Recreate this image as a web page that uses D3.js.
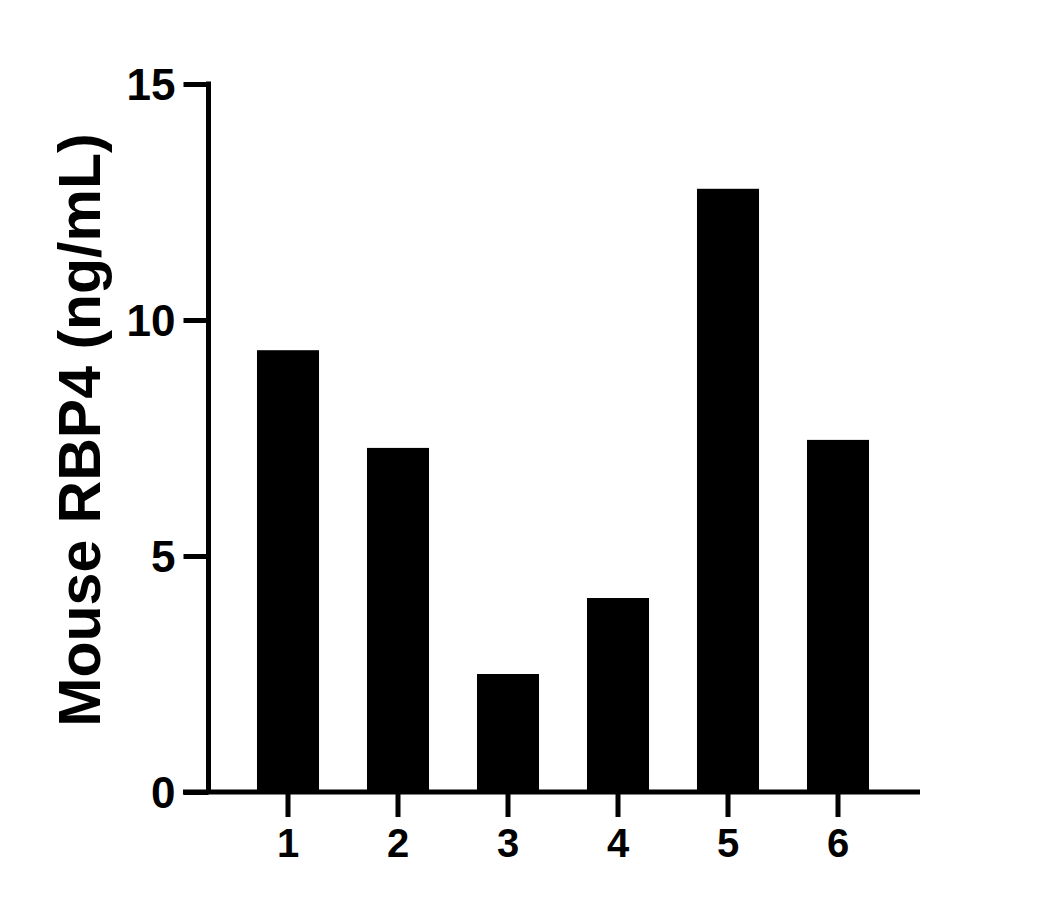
<!DOCTYPE html>
<html>
<head>
<meta charset="utf-8">
<script src="https://cdn.jsdelivr.net/npm/d3@7"></script>
<style>
  body { margin: 0; background: #fff; }
  text { font-family: "Liberation Sans", Arial, sans-serif; font-weight: bold; fill: #000; }
</style>
</head>
<body>
<svg id="chart"></svg>
<script>
// data
const samples = ["1", "2", "3", "4", "5", "6"];
const rbp4 = [9.36, 7.29, 2.5, 4.11, 12.78, 7.46];
const yTicks = [0, 5, 10, 15];
const yLabel = "Mouse RBP4 (ng/mL)";

const width = 1055;
const height = 908;

const svg = d3.select("#chart").attr("width", width).attr("height", height);

const y = d3.scaleLinear().domain([0, 15]).range([792, 84]);
const x = d3.scaleBand()
	.domain(samples)
	.range([233, 893])
	.paddingInner(0.436)
	.paddingOuter(0.218);

const axisX = 208.5;

// bars
svg.append("g")
	.selectAll("rect")
	.data(samples)
	.enter()
	.append("rect")
	.attr("x", (d) => x(d))
	.attr("y", (d, i) => y(rbp4[i]))
	.attr("width", x.bandwidth())
	.attr("height", (d, i) => y(0) - y(rbp4[i]))
	.attr("fill", "#000");

// y axis
const gy = svg.append("g")
	.attr("transform", `translate(${axisX},0)`)
	.call(d3.axisLeft(y).tickValues(yTicks).tickSize(25).tickSizeOuter(0).tickPadding(8));
gy.select(".domain").attr("stroke", "#000").attr("stroke-width", 5).attr("d", `M0,${y(15) - 2.5}V${y(0)}`);
gy.selectAll(".tick line").attr("stroke", "#000").attr("stroke-width", 5);
gy.selectAll(".tick text").style("font-size", "44px").attr("dy", "0.36em");

// x axis
const gx = svg.append("g")
	.attr("transform", `translate(0,${y(0)})`)
	.call(d3.axisBottom(x).tickSize(25).tickSizeOuter(0).tickPadding(12));
gx.select(".domain").remove();
gx.selectAll(".tick line").attr("stroke", "#000").attr("stroke-width", 5);
gx.selectAll(".tick text").style("font-size", "40px");

svg.append("line")
	.attr("x1", 183)
	.attr("x2", 920)
	.attr("y1", y(0))
	.attr("y2", y(0))
	.attr("stroke", "#000")
	.attr("stroke-width", 5);

// y label
svg.append("text")
	.attr("transform", `translate(100,${(y(0) + y(15)) / 2 - 8}) rotate(-90)`)
	.attr("text-anchor", "middle")
	.style("font-size", "59px")
	.text(yLabel);
</script>
</body>
</html>
